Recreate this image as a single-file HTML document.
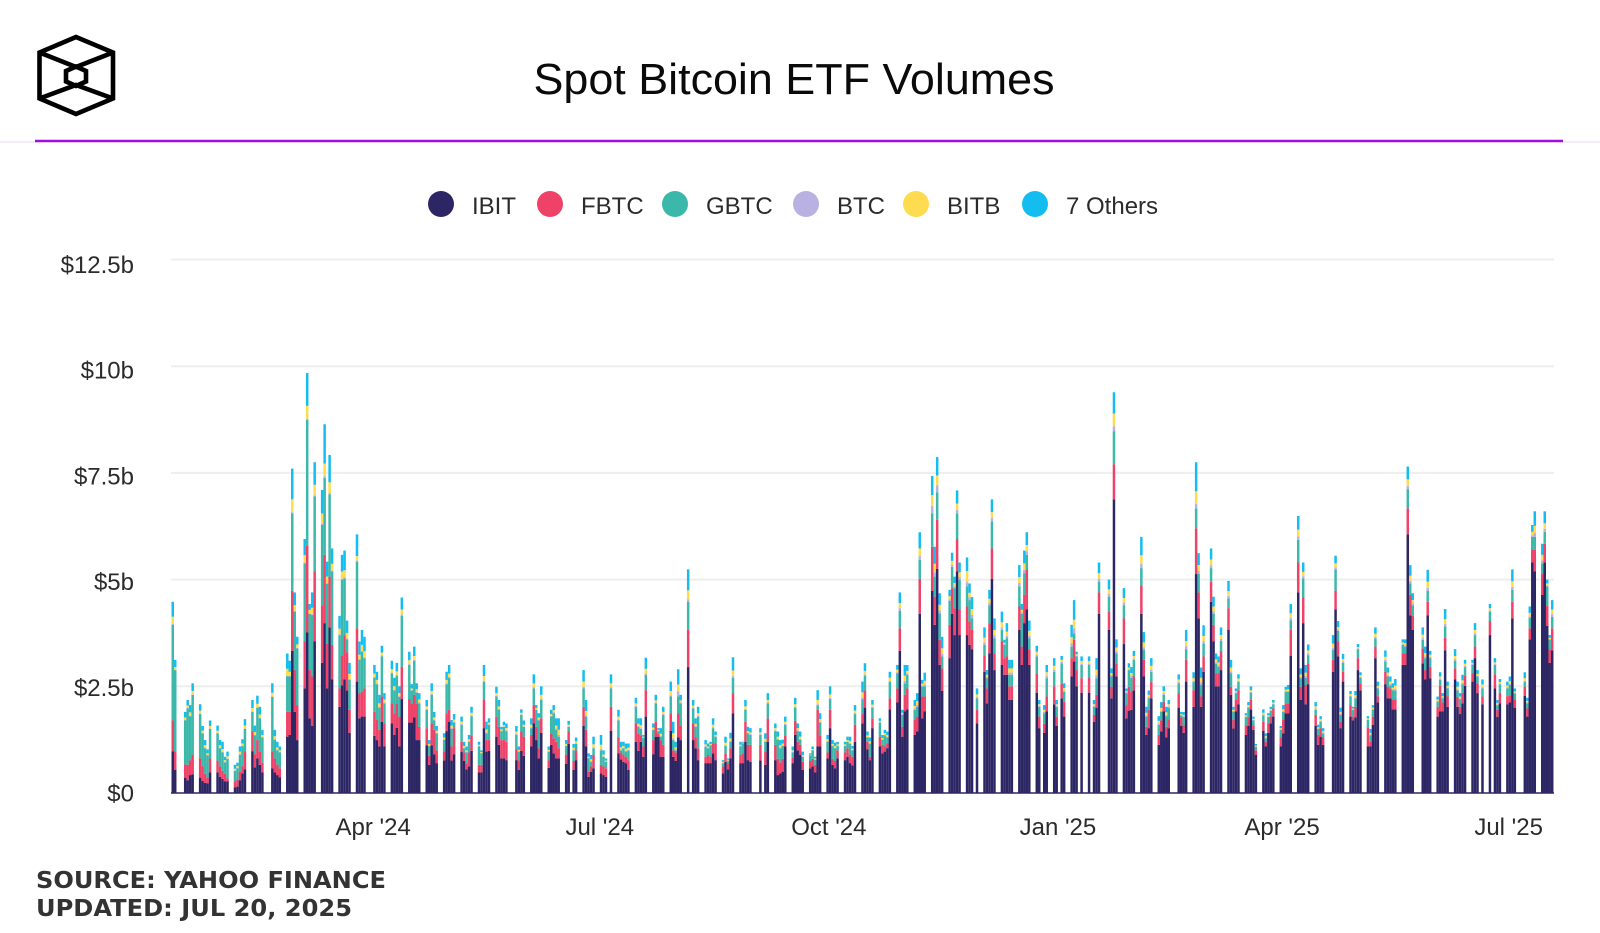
<!DOCTYPE html>
<html lang="en">
<head>
<meta charset="utf-8">
<title>Spot Bitcoin ETF Volumes</title>
<style>
html,body{margin:0;padding:0;background:#fff;}
body{width:1600px;height:933px;overflow:hidden;font-family:"Liberation Sans",sans-serif;}
svg{display:block;}
text{font-family:"Liberation Sans",sans-serif;fill:#2b2b2b;}
</style>
</head>
<body>
<svg id="chart" width="1600" height="933" viewBox="0 0 1600 933" xmlns="http://www.w3.org/2000/svg">
  <rect x="0" y="0" width="1600" height="933" fill="#ffffff"/>
  <g fill="none" stroke="#000" stroke-width="4.6" stroke-linejoin="miter">
    <polygon points="76,37 113,52.5 113,98.5 76,114 39.5,98.5 39.5,52.5"/>
    <polygon points="76,66.5 86,71 86,81.5 76,86 66,81.5 66,71"/>
    <polyline points="39.5,52.5 76,67 113,52.5"/>
    <polyline points="39.5,98.5 76,85 113,98.5"/>
  </g>
  <text x="794" y="94" text-anchor="middle" font-size="44" textLength="521" lengthAdjust="spacingAndGlyphs" style="fill:#0a0a0a">Spot Bitcoin ETF Volumes</text>
  <line x1="0" y1="142" x2="35" y2="142" stroke="#f3e4fb" stroke-width="1.5"/>
  <line x1="1563" y1="142" x2="1600" y2="142" stroke="#f3e4fb" stroke-width="1.5"/>
  <line x1="35" y1="141" x2="1563" y2="141" stroke="#a10ee0" stroke-width="2.6"/>
  <g id="grid"></g>
  <g id="bars"></g>
  <g id="yaxis"></g>
  <g id="xaxis"></g>
  <g id="legend"></g>
  <g style="font-weight:700">
    <text x="36" y="888" font-size="23" textLength="350" lengthAdjust="spacingAndGlyphs" style="font-family:'DejaVu Sans',sans-serif;font-weight:700;fill:#333">SOURCE: YAHOO FINANCE</text>
    <text x="36" y="916" font-size="23" textLength="316" lengthAdjust="spacingAndGlyphs" style="font-family:'DejaVu Sans',sans-serif;font-weight:700;fill:#333">UPDATED: JUL 20, 2025</text>
  </g>
</svg>
<script>
// Each row is one Mon-Fri week, starting the week of 2024-01-08. 0 = no bar that day. Values in $ billions.
const firstMonday = '2024-01-08';
const seriesNames = ['IBIT','FBTC','GBTC','BTC','BITB','7 Others'];
const seriesColors = ['#2d2664','#ee4268','#3cb8ab','#b9b1e2','#ffdc4f','#14bdf0'];
const yTicks = [0,2.5,5,7.5,10,12.5];
const yTickLabels = ['$0','$2.5b','$5b','$7.5b','$10b','$12.5b'];
const xTickDates = ['2024-04-01','2024-07-01','2024-10-01','2025-01-01','2025-04-01','2025-07-01'];
const xTickLabels = ["Apr '24","Jul '24","Oct '24","Jan '25","Apr '25","Jul '25"];

const ibit = [
0,0,0,.98,.54, 0,.36,.3,.42,.44, .36,.28,.24,.23,.48, .48,.38,.33,.27,.27,
.13,.15,.3,.46,.55, .98,.6,.81,.66,.48, 0,.58,.48,.42,.37, 1.32,1.36,3.33,1.9,1.24,
2.45,3.76,1.75,1.57,3.55, 3.05,3.98,2.45,3.88,2.66, 2.02,2.52,2.66,2.4,1.41, 2.61,1.75,1.79,1.79,0,
1.34,1.24,1.09,1.67,1.09, 1.63,1.36,1.53,1.09,2.2, 1.65,1.65,1.77,1.24,1.24, 1.12,.66,1.12,.91,.7,
.76,1.45,1.67,.76,.91, .97,.75,.55,.62,.99, .48,.48,1.52,.97,.99, 1.32,1.13,.81,.81,.77,
0,.77,.54,.99,.87, 1.09,1.63,1.24,.81,1.41, .59,1.13,.93,.81,.81, .68,1.15,0,.54,.77,
1.57,1.09,.38,.5,.58, .46,.42,.38,0,1.46, .93,.79,.73,.7,.54, 1.2,.99,1.2,.85,1.79,
.91,1.32,1.32,.85,.85, 1.46,.85,.75,1.3,1.24, 2.95,0,1.24,1.05,.77, .7,.7,.7,.93,.77,
.46,.73,.55,.81,1.87, .7,.7,1.2,.77,.73, 0,.76,0,.66,1.2, .77,.42,.46,.5,1.09,
.7,1.36,1,.89,.54, .58,.62,.48,1.09,1.09, .81,1.52,.66,.58,.81, .77,.85,.7,.65,1.2,
1.63,2,1.02,.77,1.52, 1.09,.93,.97,1.05,1.96, 2.12,3.33,1.32,1.91,1.96, 1.36,1.44,4.2,1.75,1.91,
4.74,3.94,5.25,3,2.39, 3.16,4.2,3.7,5.19,3.7, 3.7,3.47,3.37,0,1.63, 2.84,2.1,3.27,5.02,2.88,
3,2.77,2.77,2.18,2.18, 3.82,3,3.98,4.3,3, 2.35,1.52,0,1.41,1.91, 2.08,1.57,0,2.22,1.79,
2.73,3.08,2.5,0,2.35, 2.35,0,1.67,2,4.2, 0,3.82,2.22,6.88,2.73, 3.49,1.75,1.93,1.95,2.4,
4.2,2.73,1.36,1.52,2.22, 1.13,1.44,1.91,1.3,1.52, 0,2,1.57,1.41,2.61, 2.02,5.13,4.09,2.02,2.84,
4.48,3.55,2.5,2.5,2.88, 3.82,2.3,1.51,1.91,2.08, 1.36,1.57,1.96,1.48,.89, 1.46,1.09,1.41,1.63,1.79,
1.09,1.4,1.87,1.87,3.21, 4.7,2.18,3.98,2.08,2.55, 1.57,1.13,1.32,1.13,0, 2.84,4.3,3.2,1.52,2.61,
1.79,1.7,1.77,2.88,2.4, 1.09,1.09,1.6,3.16,2.12, 2.55,2.22,2.22,1.96,1.96, 3,3,6.06,4.16,3.82,
0,3.04,2.66,4.16,2.69, 1.79,1.91,1.91,3.34,2.02, 2.66,2.02,1.85,2.1,2.51, 2.61,3.16,2.34,0,2.08,
3.7,0,2.45,1.78,2.1, 2.08,2.12,4.09,2,0, 2.28,1.79,3.6,5.4,5.19, 4.64,5.4,3.92,3.05,3.34
];
const fbtc = [
0,0,0,.72,.44, 0,.31,.36,.35,.46, .45,.35,.21,.14,.33, .28,.24,.19,.18,.07,
.14,.17,.2,.17,.43, .47,.31,.43,.31,.23, 0,.4,.33,.25,.21, .58,.54,1.41,.98,.82,
1.1,2.03,1.13,1.16,1.64, 1.35,1.6,1.05,1.19,.81, .43,.7,1.04,.9,.54, 1.25,.59,.59,.66,0,
.56,.47,.39,.59,.54, .47,.51,.57,.7,.76, .55,.45,.53,.86,.31, .4,.21,.51,.57,.3,
.22,.42,.28,.33,.61, .23,.2,.15,.33,.36, .18,.18,.66,.27,.25, .47,.42,.43,.43,.43,
0,.25,.23,.45,.45, .27,.43,.31,.24,.34, .18,.27,.35,.39,.24, .22,.3,0,.21,.23,
.45,.39,.12,.12,.31, .2,.2,.2,0,.56, .37,.16,.17,.15,.23, .43,.41,.15,.24,.62,
.33,.35,.08,.39,.28, .41,.15,.2,.57,.33, .87,0,.39,.25,.28, .15,.19,.15,.23,.39,
.16,.2,.15,.24,.47, .19,.23,.47,.36,.4, 0,.37,0,.31,.55, .36,.38,.26,.3,.26,
.12,.33,.2,.24,.19, .17,.18,.18,.86,.26, .14,.43,.14,.17,.19, .18,.2,.2,.2,.4,
.22,.4,.18,.08,.23, .23,.2,.12,.11,.26, .33,.53,.23,.39,.49, .35,.35,.82,.51,.35,
1.03,.66,1.15,.59,.53, .78,.6,.63,.76,.6, .67,.55,.45,0,.32, .37,.35,.71,.71,.39,
.55,.39,.43,.32,.32, .55,.43,.66,.94,.37, .44,.27,0,.21,.35, .42,.22,0,.35,.35,
.43,.51,.38,0,.34, .36,0,.16,.3,.5, 0,.43,.27,.82,.31, .6,.31,.56,.43,.33,
.65,.39,.19,.43,.38, .23,.26,.22,.25,.21, 0,.34,.2,.18,.51, .39,1.07,.61,.25,.36,
.47,.39,.3,.3,.45, .51,.19,.2,.27,.33, .23,.2,.22,.11,.11, .21,.11,.22,.16,.19,
.21,.33,.23,.23,.61, .7,.31,.6,.45,.49, .26,.23,.2,.17,0, .28,.44,.35,.15,.23,
.27,.09,.25,.28,.17, .45,.11,.19,.27,.15, .29,.27,.23,.22,.24, .27,.27,.61,.48,.33,
0,.35,.22,.32,.27, .23,.6,.21,.31,.25, .26,.23,.17,.25,.24, .19,.27,.23,0,.18,
.33,0,.33,.17,.25, .19,.17,.39,.18,0, .21,.19,.26,.31,.51, .49,.44,.46,.32,.52
];
const gbtc = [
0,0,0,2.24,1.9, 0,1.03,1.32,1.03,1.4, 1.04,.77,.6,.51,.69, .64,.43,.43,.27,.46,
.25,.26,.4,.47,.52, .45,.44,.76,.78,.59, 0,1.27,.44,.33,.37, .83,.83,1.81,1.37,1.33,
1.83,2.95,1.32,1.44,1.76, 1.88,1.8,1.4,1.93,1.72, 1.25,1.78,1.33,.3,.7, 1.56,.78,.93,.71,0,
.8,.84,.52,.94,.47, .7,.53,.65,.46,1.19, .8,.3,.8,.25,.55, .43,.23,.67,.22,.4,
.27,.68,.75,.41,.13, .4,.1,.25,.25,.45, .43,.27,.42,.16,.36, .47,.4,.21,.31,.25,
0,.34,.2,.39,.23, .16,.39,.4,.65,.43, .2,.39,.59,.28,.27, .2,.1,0,.25,.15,
.43,.31,.31,.11,.16, .34,.23,.15,0,.43, .4,.05,.15,.12,.23, .39,.15,.15,.2,.36,
.24,.43,.05,.08,.7, .39,.24,.05,.39,.53, .66,0,.35,.25,.74, .23,.16,.27,.36,.16,
.08,.17,.05,.15,.36, .2,.23,.28,.27,.23, 0,.23,0,.23,.35, .32,.45,.33,.3,.25,
.13,.31,.25,.12,.12, .13,.2,.12,.1,.3, .25,.25,.3,.3,.1, .15,.15,.25,.15,.25,
.35,.35,.1,.3,.25, .33,.12,.26,.14,.38, .35,.41,.28,.27,.32, .24,.23,.44,.24,.24,
.78,.47,.64,.62,.28, .56,.5,.47,.6,.7, .47,.5,.27,0,.27, .26,.24,.42,.63,.35,
.27,.31,.43,.27,.27, .47,.77,.51,.34,.25, .41,.23,0,.25,.43, .34,.23,0,.47,.23,
.27,.15,.32,0,.31, .29,0,.19,.39,.25, 0,.35,.24,.77,.23, .31,.28,.39,.32,.39,
.42,.23,.24,.27,.24, .24,.2,.17,.25,.27, 0,.23,.05,.19,.25, .19,.47,.43,.26,.3,
.32,.26,.23,.16,.23, .23,.31,.19,.16,.19, .19,.23,.17,.11,.08, .15,.08,.15,.14,.1,
.18,.17,.27,.27,.23, .53,.2,.45,.17,.19, .12,.14,.15,.1,0, .23,.5,.25,.16,.21,
.2,.16,.2,.21,.13, .17,.15,.16,.19,.18, .24,.24,.07,.23,.2, .2,.16,.45,.27,.25,
0,.2,.28,.26,.2, .12,.14,.1,.25,.18, .18,.15,.18,.2,.2, .2,.27,.16,0,.19,
.22,0,.22,.1,.2, .18,.24,.28,.15,0, .11,.12,.24,.29,.3, .25,.28,.46,.22,.27
];
const btc = [
0,0,0,.02,.01, 0,.01,.01,.01,.01, .01,.01,.01,.01,.01, .01,.01,.01,.01,.01,
.01,.01,.01,.01,.01, .01,.01,.01,.01,.01, 0,.01,.01,.01,.01, .02,.01,.03,.02,.01,
.02,.03,.01,.02,.02, .03,.04,.02,.03,.02, .02,.02,.02,.02,.02, .03,.02,.02,.02,0,
.02,.02,.02,.02,.02, .02,.02,.02,.02,.03, .02,.01,.02,.02,.02, .02,.01,.02,.02,.01,
.01,.02,.02,.02,.02, .02,.01,.01,.02,.02, .01,.01,.03,.02,.01, .02,.02,.01,.01,.02,
0,.02,.01,.01,.01, .02,.03,.01,.02,.03, .01,.02,.02,.03,.04, .01,.01,0,.02,.02,
.04,.03,.01,.02,.02, .03,.01,.01,0,.03, .02,.02,.01,.02,.01, .02,.02,.02,.01,.03,
.01,.02,.01,.02,.02, .03,.04,.02,.12,.02, .06,0,.02,.02,.02, .02,.01,.01,.02,.01,
.01,.02,.01,.02,.04, .01,.01,.02,.01,.02, 0,.02,0,.02,.02, .02,.02,.02,.02,.02,
.01,.02,.02,.02,.01, .01,.01,.01,.03,.02, .02,.03,.01,.01,.01, .01,.01,.02,.01,.02,
.04,.03,.01,.02,.02, .01,.01,.01,.02,.03, .03,.06,.02,.06,.03, .03,.04,.09,.02,.04,
.18,.1,.17,.07,.06, .04,.05,.04,.08,.06, .1,.06,.08,0,.03, .06,.03,.05,.08,.07,
.06,.02,.05,.05,.05, .08,.03,.08,.08,.06, .04,.02,0,.03,.05, .05,.02,0,.03,.03,
.08,.12,.02,0,.03, .03,0,.02,.07,.07, 0,.06,.03,.12,.05, .06,.02,.02,.04,.03,
.1,.06,.03,.03,.05, .03,.03,.03,.03,.03, 0,.03,.01,.02,.07, .03,.1,.07,.06,.06,
.07,.06,.03,.03,.05, .06,.05,.02,.02,.03, .01,.02,.02,.01,.01, .02,.02,.01,.01,.01,
.01,.02,.02,.02,.06, .08,.03,.05,.04,.04, .03,.01,.02,.02,0, .05,.05,.03,.02,.03,
.02,.01,.02,.02,.02, .01,.02,.02,.04,.02, .04,.03,.03,.02,.04, .02,.03,.08,.06,.04,
0,.04,.04,.07,.03, .02,.03,.02,.06,.02, .04,.03,.02,.03,.03, .02,.04,.02,0,.03,
.03,0,.02,.02,.02, .02,.03,.07,.02,0, .03,.02,.04,.04,.09, .07,.07,.02,.02,.06
];
const bitb = [
0,0,0,.17,.06, 0,.06,.06,.08,.08, .07,.05,.06,.04,.06, .05,.06,.07,.04,.05,
.04,.04,.06,.05,.07, .08,.07,.08,.08,.05, 0,.09,.07,.06,.04, .16,.1,.3,.13,.08,
.17,.3,.08,.15,.25, .24,.3,.15,.25,.16, .13,.17,.17,.13,.12, .1,.1,.14,.14,0,
.08,.08,.08,.07,.07, .08,.08,.08,.07,.12, .09,.04,.09,.06,.07, .06,.04,.07,.05,.05,
.04,.08,.08,.06,.05, .05,.04,.04,.04,.06, .03,.02,.11,.07,.04, .06,.06,.03,.03,.05,
0,.06,.03,.04,.04, .06,.09,.03,.05,.09, .03,.04,.05,.07,.12, .04,.04,0,.04,.04,
.12,.1,.03,.04,.07, .1,.04,.02,0,.09, .07,.05,.04,.05,.05, .06,.05,.07,.02,.11,
.04,.05,.02,.05,.05, .1,.12,.05,.16,.05, .21,0,.05,.05,.06, .04,.03,.02,.06,.03,
.02,.06,.02,.06,.13, .03,.01,.06,.04,.04, 0,.04,0,.05,.06, .05,.05,.05,.04,.05,
.04,.06,.05,.05,.03, .01,.02,.02,.1,.06, .04,.08,.04,.04,.03, .03,.03,.05,.03,.06,
.12,.08,.04,.04,.05, .03,.03,.04,.04,.07, .06,.12,.03,.12,.06, .06,.09,.18,.04,.09,
.25,.2,.23,.13,.13, .07,.09,.08,.15,.11, .26,.11,.14,0,.06, .11,.05,.1,.14,.13,
.12,.03,.1,.1,.1, .14,.06,.15,.15,.12, .07,.04,0,.05,.09, .09,.04,0,.05,.06,
.14,.2,.03,0,.06, .06,0,.04,.13,.13, 0,.11,.05,.3,.09, .11,.03,.04,.07,.06,
.2,.12,.06,.05,.09, .06,.06,.06,.06,.05, 0,.06,.02,.03,.12, .06,.3,.14,.11,.12,
.13,.11,.07,.07,.09, .11,.09,.03,.03,.05, .03,.04,.04,.03,.02, .04,.03,.03,.03,.03,
.03,.04,.03,.04,.1, .16,.06,.1,.08,.07, .05,.03,.04,.03,0, .1,.09,.06,.05,.06,
.04,.02,.05,.03,.04, .03,.04,.03,.07,.04, .07,.06,.06,.04,.08, .04,.05,.15,.12,.08,
0,.08,.08,.14,.05, .03,.05,.03,.11,.04, .07,.06,.04,.06,.05, .03,.08,.04,0,.06,
.05,0,.04,.04,.03, .05,.06,.13,.03,0, .06,.04,.08,.08,.17, .13,.13,.05,.03,.11
];
const others = [
0,0,0,.35,.17, 0,.13,.13,.17,.18, .15,.11,.12,.09,.13, .12,.12,.17,.08,.11,
.09,.08,.12,.1,.15, .19,.15,.19,.18,.12, 0,.22,.15,.13,.09, .36,.26,.72,.3,.18,
.38,.77,.14,.36,.53, .55,.92,.35,.64,.36, .3,.39,.46,.29,.26, .51,.31,.35,.34,0,
.2,.19,.2,.16,.15, .2,.2,.2,.16,.28, .2,.1,.22,.14,.15, .15,.09,.18,.13,.11,
.1,.19,.2,.13,.13, .12,.1,.09,.1,.14, .07,.04,.26,.18,.1, .15,.15,.06,.08,.11,
0,.13,.08,.08,.1, .15,.21,.07,.1,.2, .08,.1,.12,.17,.27, .09,.09,0,.09,.09,
.27,.26,.08,.1,.18, .23,.1,.05,0,.21, .16,.13,.1,.12,.1, .13,.13,.16,.04,.26,
.1,.13,.04,.13,.12, .22,.27,.13,.36,.13, .49,0,.13,.13,.15, .1,.07,.05,.15,.08,
.04,.14,.03,.13,.31, .07,.02,.15,.1,.1, 0,.1,0,.13,.16, .11,.12,.12,.09,.12,
.09,.15,.11,.12,.08, .03,.06,.04,.23,.14, .1,.19,.09,.08,.06, .06,.08,.1,.06,.13,
.25,.18,.09,.09,.11, .06,.07,.08,.08,.14, .11,.25,.07,.25,.14, .14,.19,.38,.09,.19,
.45,.4,.43,.27,.27, .15,.19,.15,.31,.23, .32,.22,.28,0,.14, .24,.11,.21,.3,.27,
.25,.07,.2,.2,.2, .28,.14,.3,.3,.24, .14,.1,0,.11,.17, .18,.1,0,.09,.11,
.29,.46,.06,0,.11, .11,0,.1,.27,.25, 0,.23,.11,.5,.19, .23,.06,.1,.14,.12,
.43,.24,.14,.1,.18, .11,.14,.11,.13,.1, 0,.12,.05,.07,.26, .14,.68,.28,.24,.25,
.26,.23,.14,.14,.18, .24,.18,.07,.06,.1, .05,.07,.09,.05,.04, .08,.07,.05,.05,.06,
.05,.1,.07,.1,.22, .32,.14,.22,.18,.14, .1,.06,.07,.07,0, .2,.18,.14,.1,.12,
.07,.04,.1,.07,.07, .05,.09,.06,.15,.1, .15,.12,.12,.1,.15, .07,.09,.3,.25,.16,
0,.17,.15,.28,.09, .07,.1,.07,.24,.1, .16,.12,.08,.13,.09, .07,.16,.09,0,.12,
.1,0,.1,.07,.07, .09,.11,.28,.07,0, .14,.07,.15,.16,.34, .26,.28,.09,.06,.22
];

const NS = 'http://www.w3.org/2000/svg';
const allSeries = [ibit, fbtc, gbtc, btc, bitb, others];
const DAY = 86400000;
const originTime = Date.parse('2024-01-11T00:00:00Z');
const plotLeft = 171.5, dayWidth = 2.49, plotRight = 1554;
const zeroY = 793, pxPerBillion = 42.68;

function xScale(time) { return plotLeft + dayWidth * (time - originTime) / DAY; }
function yScale(value) { return zeroY - value * pxPerBillion; }
function yLabelPos(value) { return 793 - value * 42.28; }
function barTime(i) {
  const week = Math.floor(i / 5), weekday = i % 5;
  return Date.parse(firstMonday + 'T00:00:00Z') + (week * 7 + weekday) * DAY;
}

const gridG = document.getElementById('grid');
const yG = document.getElementById('yaxis');
yTicks.forEach(function (v, i) {
  if (v > 0) {
    const ln = document.createElementNS(NS, 'line');
    
    
    ln.setAttribute('x1', 171);
    ln.setAttribute('x2', plotRight);
    ln.setAttribute('y1', yScale(v));
    ln.setAttribute('y2', yScale(v));
    ln.setAttribute('stroke', '#eeeeee');
    ln.setAttribute('stroke-width', '2');
    gridG.appendChild(ln);
  }
  const t = document.createElementNS(NS, 'text');
  
  
  t.setAttribute('x', 134);
  t.setAttribute('y', yLabelPos(v) + 8.5);
  t.setAttribute('text-anchor', 'end');
  t.setAttribute('font-size', '24');
  t.textContent = yTickLabels[i];
  yG.appendChild(t);
});

const barsG = document.getElementById('bars');
const barCount = ibit.length;
for (let i = 0; i < barCount; i++) {
  let cum = 0;
  const x = xScale(barTime(i));
  allSeries.forEach(function (arr, s) {
    const v = arr[i] || 0;
    if (v <= 0) return;
    const el = document.createElementNS(NS, 'rect');
    
    
    el.setAttribute('x', x.toFixed(2));
    el.setAttribute('width', dayWidth);
    el.setAttribute('y', yScale(cum + v).toFixed(2));
    el.setAttribute('height', (v * pxPerBillion).toFixed(2));
    el.setAttribute('fill', seriesColors[s]);
    barsG.appendChild(el);
    cum += v;
  });
}

const axisLine = document.createElementNS(NS, 'line');


axisLine.setAttribute('x1', 171);
axisLine.setAttribute('x2', plotRight);
axisLine.setAttribute('y1', zeroY);
axisLine.setAttribute('y2', zeroY);
axisLine.setAttribute('stroke', '#2d2664');
axisLine.setAttribute('stroke-width', '1.5');
document.getElementById('xaxis').appendChild(axisLine);

xTickDates.forEach(function (d, i) {
  const t = document.createElementNS(NS, 'text');
  
  
  t.setAttribute('x', xScale(Date.parse(d + 'T00:00:00Z')));
  t.setAttribute('y', 835);
  t.setAttribute('text-anchor', 'middle');
  t.setAttribute('font-size', '24');
  t.textContent = xTickLabels[i];
  document.getElementById('xaxis').appendChild(t);
});

const legendDotX = [441, 550, 675, 806, 916, 1035];
const legendG = document.getElementById('legend');
seriesNames.forEach(function (name, i) {
  const entry = document.createElementNS(NS, 'g');
  
  
  const c = document.createElementNS(NS, 'circle');
  
  
  c.setAttribute('cx', legendDotX[i]);
  c.setAttribute('cy', 204);
  c.setAttribute('r', 13);
  c.setAttribute('fill', seriesColors[i]);
  entry.appendChild(c);
  const t = document.createElementNS(NS, 'text');
  
  
  t.setAttribute('x', legendDotX[i] + 31);
  t.setAttribute('y', 214);
  t.setAttribute('font-size', '24');
  t.textContent = name;
  entry.appendChild(t);
  legendG.appendChild(entry);
});
</script>
</body>
</html>
